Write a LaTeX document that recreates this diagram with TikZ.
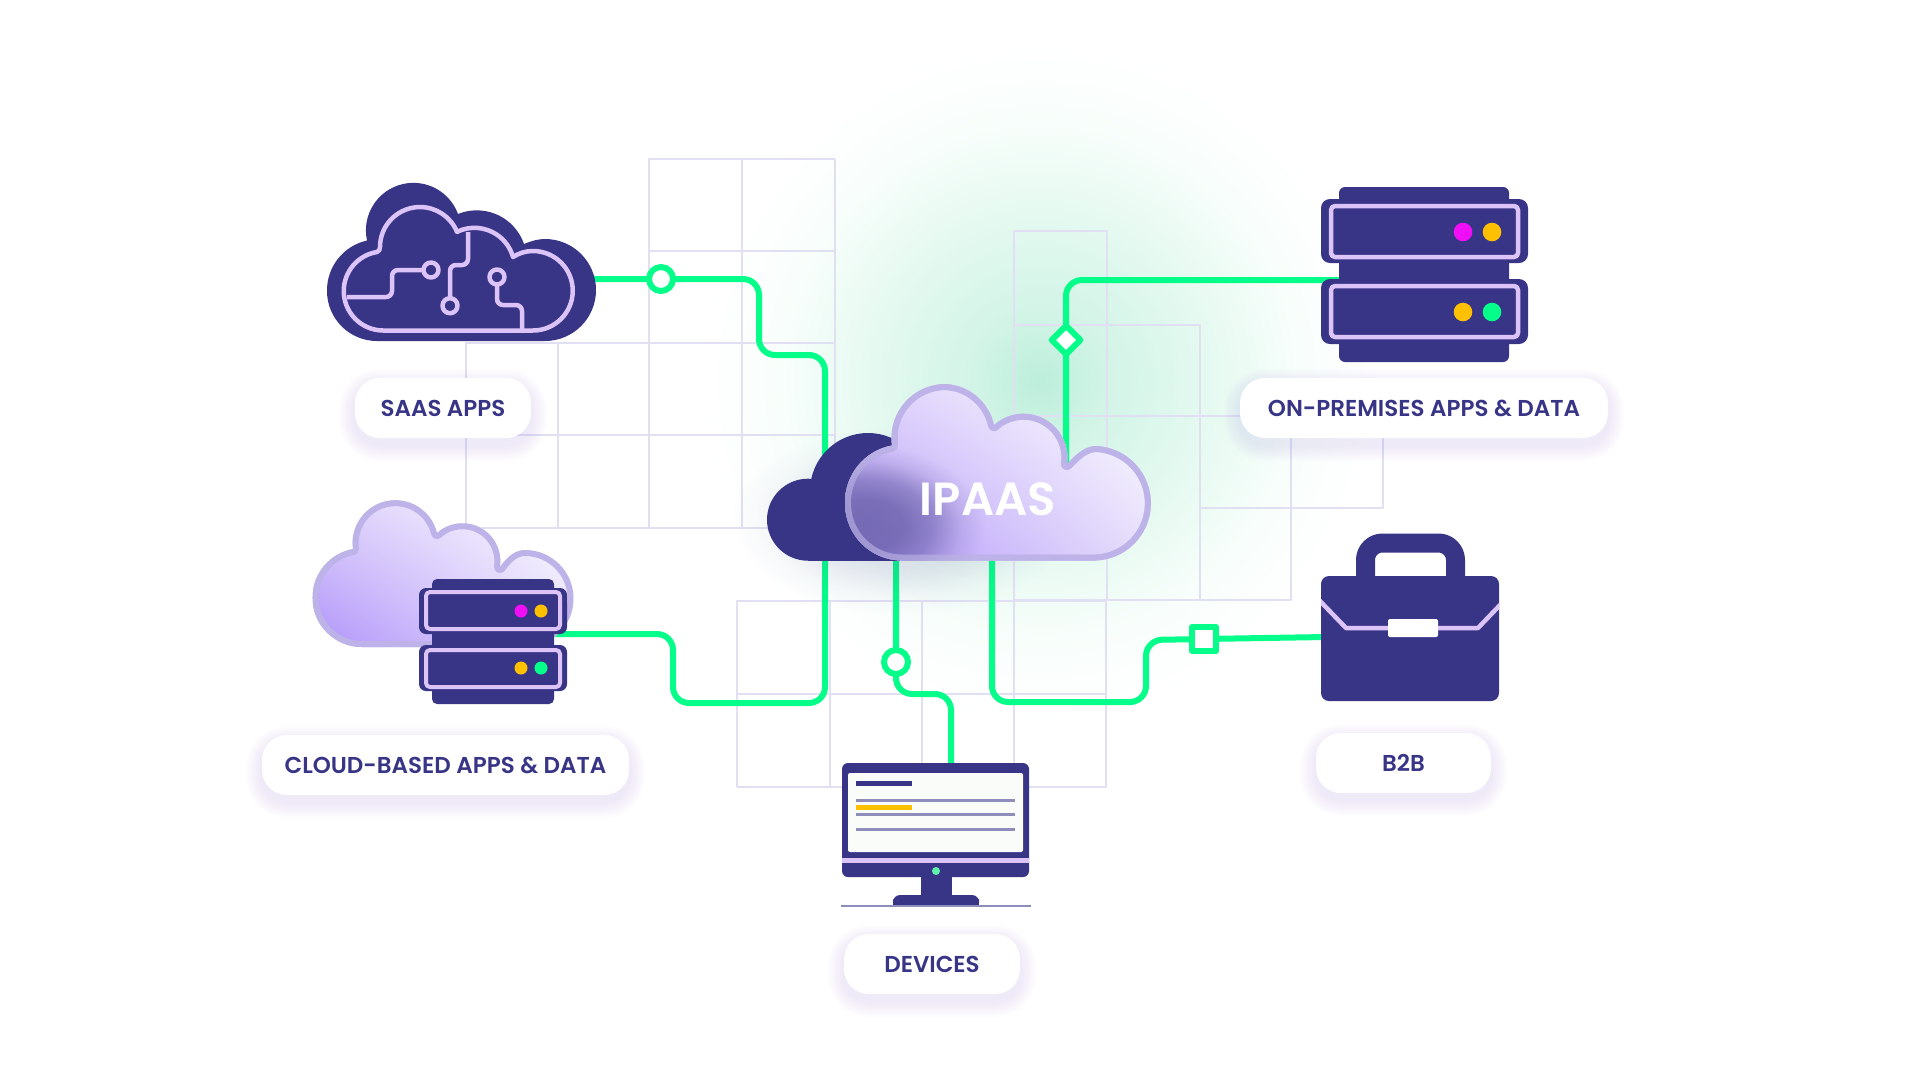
\documentclass[tikz,border=0pt]{standalone}
\usepackage{fontspec}
\setmainfont{Poppins}[BoldFont={Poppins SemiBold}]
\usetikzlibrary{shapes.geometric,svg.path,fadings,shadings}
\definecolor{inkb}{HTML}{383587}
\definecolor{lav}{HTML}{DCC3F8}
\definecolor{gridc}{HTML}{E1DFF2}
\definecolor{lnk}{HTML}{05FD8A}
\definecolor{rim}{HTML}{BDB3E8}
\definecolor{mag}{HTML}{F00FF5}
\definecolor{amb}{HTML}{FFC000}
\definecolor{scr}{HTML}{FAFCF9}
\definecolor{gln}{HTML}{8F8DBB}
\definecolor{glowa}{HTML}{BCEEDA}
\definecolor{glowb}{HTML}{E4F9F0}
\definecolor{glowc}{HTML}{F8FEFB}
\definecolor{cloudll}{HTML}{B094FA}
\definecolor{cloudul}{HTML}{DDD0FB}
\definecolor{cloudlr}{HTML}{E6DEFB}
\definecolor{btn}{HTML}{5FF2AB}
\definecolor{softc}{HTML}{A08CF0}
\pgfdeclareradialshading{glowsh}{\pgfpointorigin}{color(0bp)=(glowa); color(5bp)=(glowb!55!glowa); color(12bp)=(glowb); color(19bp)=(glowc); color(25bp)=(white); color(50bp)=(white)}
\pgfdeclareradialshading{blobsh}{\pgfpointorigin}{color(0bp)=(white); color(8bp)=(white!95!black); color(14bp)=(white!68!black); color(20bp)=(white!20!black); color(25bp)=(black); color(50bp)=(black)}
\pgfdeclarefading{blob}{\pgfuseshading{blobsh}}
\def\frontcloud{svg[yscale=-1] {M 902 560.5 A 57 57 0 0 1 845 503.5 A 57.5 57.5 0 0 1 892 445 A 54 54 0 0 1 945 384 A 52 52 0 0 1 994 425 A 44 44 0 0 1 1067 464 C 1077 453 1086 446 1096 446 A 57.3 57.3 0 0 1 1096 560.5 Z}}
\def\saascloud{svg[yscale=-1] {M 377 341 A 50 50 0 0 1 327 291 A 51 51 0 0 1 367 240 A 47.5 47.5 0 0 1 458 214 A 50 50 0 0 1 524 244 C 531 241 538 239 545 239 A 51 51 0 0 1 545 341 Z}}
\def\saasline{svg[yscale=-1] {M 383 330.5 A 39.5 39.5 0 0 1 377 252 Q 380 251 380 247 A 40 40 0 0 1 457 232 A 40 40 0 0 1 513 257 C 519 253 526 251 533 251 A 39.75 39.75 0 0 1 533 330.5 Z}}
\def\cbcloud{svg[yscale=-1] {M 362 647 A 49.4 49.4 0 0 1 353 549 A 42.8 42.8 0 0 1 437 533 A 38 38 0 0 1 500 567 C 507 557 515 550 525 550 A 48.5 48.5 0 0 1 525 647 Z}}
\tikzset{
  link/.style={draw=lnk,line width=6pt,rounded corners=16pt},
  gridl/.style={draw=gridc,line width=2.2pt},
  ring/.style={circle,draw=lnk,line width=6pt,fill=white,minimum size=24pt,inner sep=0pt},
  rhomb/.style={diamond,draw=lnk,line width=6pt,fill=white,minimum width=31pt,minimum height=31pt,inner sep=0pt},
  boxm/.style={rectangle,draw=lnk,line width=6pt,fill=white,minimum size=24pt,inner sep=0pt},
  lavl/.style={draw=lav,line width=4.5pt,rounded corners=4pt},
  trace/.style={draw=lav,line width=4.5pt,rounded corners=6pt},
  tring/.style={circle,draw=lav,line width=4.5pt,fill=inkb,minimum size=15pt,inner sep=0pt},
  pilltext/.style={rectangle,fill=white,rounded corners=25pt,text=inkb,font=\bfseries\fontsize{23}{28}\selectfont,text height=17pt,text depth=0pt,inner sep=0pt,align=center}
}
\newcommand{\softbox}[4]{\foreach \k in {1,...,8}{\fill[color=softc,opacity=.02,rounded corners={25+\k*2}] ({#1-\k*2},{#2+7-\k*2}) rectangle ({#3+\k*2},{#4+7+\k*2});}}
\newcommand{\glasscloud}[5]{\begin{scope}\clip #1;\shade[lower left=cloudll,upper left=cloudul,lower right=cloudlr,upper right=white] (#2,#3) rectangle (#4,#5);\draw[rim,line width=12pt] #1;\end{scope}}
\begin{document}
\begin{tikzpicture}[x=1pt,y=-1pt,line join=round]
\useasboundingbox (0,0) rectangle (1920,1080);
\fill[white] (0,0) rectangle (1920,1080);
\shade[shading=glowsh] (1040,380) circle (340);
% grids
\draw[gridl] (649,159) rectangle (835,528);
\draw[gridl] (742,159) -- (742,528);
\draw[gridl] (649,251) -- (835,251);
\draw[gridl] (466,343) rectangle (835,528);
\draw[gridl] (558,343) -- (558,528);
\draw[gridl] (466,435) -- (835,435);
\draw[gridl] (1014,231) -- (1107,231) -- (1107,600);
\draw[gridl] (1014,231) -- (1014,787);
\draw[gridl] (1014,325) -- (1200,325) -- (1200,600);
\draw[gridl] (1014,416) -- (1383,416) -- (1383,508) -- (1200,508);
\draw[gridl] (1291,416) -- (1291,600) -- (1014,600);
\draw[gridl] (737,601) rectangle (1106,787);
\draw[gridl] (830,601) -- (830,787);
\draw[gridl] (922,601) -- (922,787);
\draw[gridl] (737,694) -- (1106,694);
% anchors of connectors
\coordinate (saasR) at (590,279);
\coordinate (m1c) at (661,279);
\coordinate (backT) at (825,480);
\coordinate (backB) at (825,550);
\coordinate (cbR) at (555,634);
\coordinate (frontB1) at (896,555);
\coordinate (m2c) at (896,662);
\coordinate (monT) at (951,765);
\coordinate (frontB2) at (992,555);
\coordinate (m3c) at (1204,639);
\coordinate (caseL) at (1325,637);
\coordinate (frontT) at (1066,470);
\coordinate (m4c) at (1066,340);
\coordinate (premL) at (1340,280);
% connectors
\draw[link] (saasR) -- (m1c) -- (759,279) -- (759,355) -- (825,355) -- (backT);
\draw[link] (cbR) -- (673,634) -- (673,703) -- (825,703) -- (backB);
\draw[link] (frontB1) -- (m2c) -- (896,694) -- (951,694) -- (monT);
\draw[link] (frontB2) -- (992,702) -- (1146,702) -- (1146,640) -- (m3c);
\draw[link] (m3c) -- (caseL);
\draw[link] (frontT) -- (m4c) -- (1066,280) -- (premL);
\node[ring] (m1) at (m1c) {};
\node[ring] (m2) at (m2c) {};
\node[boxm] (m3) at (m3c) {};
\node[rhomb] (m4) at (m4c) {};
% shadow of the central cloud
\fill[color=inkb,opacity=.16,path fading=blob] (900,520) ellipse (170 and 95);
% back cloud
\fill[inkb] (808,519.7) circle (41);
\fill[inkb] (868,491) circle (58);
\fill[inkb] (808,490) rectangle (900,560.7);
% front cloud
\glasscloud{\frontcloud}{845}{561}{1153}{384}
\begin{scope}
\clip \frontcloud;
\fill[color=inkb!70!lav,opacity=.85,path fading=blob] (865,525) ellipse (120 and 80);
\draw[rim,line width=12pt,opacity=.6] \frontcloud;
\end{scope}
\node[text=white,font=\bfseries\fontsize{46.5}{50}\selectfont,inner sep=0pt,text height=34pt,text depth=0pt] (ipaas) at (988,498) {IPAAS};
% SaaS icon
\fill[inkb] \saascloud;
\draw[lav,line width=4.5pt] \saasline;
\draw[trace] (347,297) -- (392,297) -- (392,270) -- (431,270);
\draw[trace] (450,305) -- (450,265) -- (468,265) -- (468,232);
\draw[trace] (497,277) -- (497,305) -- (522,305) -- (522,330);
\node[tring] (t1) at (431,270) {};
\node[tring] (t2) at (450,305.7) {};
\node[tring] (t3) at (497,277) {};
% cloud-based icon
\glasscloud{\cbcloud}{313}{647}{573}{498}
\fill[inkb,rounded corners=5pt] (432,579) rectangle (554,704);
\fill[inkb,rounded corners=7pt] (419,588) rectangle (567,634);
\fill[inkb,rounded corners=7pt] (419,645) rectangle (567,691);
\draw[lavl,line width=4pt] (426,592) rectangle (560,629);
\draw[lavl,line width=4pt] (426,650) rectangle (560,687);
\fill[mag] (521,611) circle (6.5);
\fill[amb] (541,611) circle (6.5);
\fill[amb] (521,668) circle (6.5);
\fill[lnk] (541,668) circle (6.5);
% on-premises icon
\fill[inkb,rounded corners=6pt] (1339,187) rectangle (1509,362);
\fill[inkb,rounded corners=9pt] (1321,199) rectangle (1528,263);
\fill[inkb,rounded corners=9pt] (1321,279) rectangle (1528,344);
\draw[lavl] (1331,206) rectangle (1518,257);
\draw[lavl] (1331,286) rectangle (1518,337);
\fill[mag] (1463,232) circle (9.3);
\fill[amb] (1492,232) circle (9.3);
\fill[amb] (1463,312) circle (9.3);
\fill[lnk] (1492,312) circle (9.3);
% briefcase
\draw[inkb,line width=19pt,rounded corners=17pt] (1365.5,585) -- (1365.5,543) -- (1455.5,543) -- (1455.5,585);
\fill[inkb,rounded corners=8pt] (1321,576) rectangle (1499,701);
\begin{scope}
\clip[rounded corners=8pt] (1321,576) rectangle (1499,701);
\draw[lav,line width=4.5pt] (1319,600) -- (1346,628) -- (1478,628) -- (1501,604);
\end{scope}
\fill[white,rounded corners=2pt] (1388,619) rectangle (1438,637);
% monitor
\fill[inkb,rounded corners=6pt] (842,763) rectangle (1029,877);
\fill[scr,rounded corners=2pt] (848,773) rectangle (1023,852);
\fill[lav] (842,858) rectangle (1029,862.5);
\fill[inkb] (921,875) rectangle (952,897);
\fill[inkb,rounded corners=7pt] (893,906) -- (893,895) -- (979,895) -- (979,906) -- cycle;
\fill[inkb] (893,900) rectangle (979,906);
\draw[gln,line width=1.5pt] (841,906) -- (1031,906);
\fill[btn] (936,871) circle (4);
\draw[inkb,line width=5pt] (856,783) -- (912,783);
\draw[gln,line width=3pt] (856,800) -- (1015,800);
\draw[gln,line width=3pt] (856,814) -- (1015,814);
\draw[gln,line width=3pt] (856,829) -- (1015,829);
\draw[amb,line width=5pt] (856,807) -- (912,807);
% labels
\softbox{355}{378}{531}{438}
\softbox{262}{735}{629}{795}
\softbox{1240}{378}{1608}{438}
\softbox{1316}{733}{1491}{793}
\softbox{844}{934}{1020}{994}
\node[pilltext,minimum width=176pt,minimum height=60pt] (saaslab) at (443,408) {SAAS APPS};
\node[pilltext,minimum width=367pt,minimum height=60pt] (cblab) at (445.5,765) {CLOUD-BASED APPS \& DATA};
\node[pilltext,minimum width=368pt,minimum height=60pt] (premlab) at (1424,408) {ON-PREMISES APPS \& DATA};
\node[pilltext,minimum width=175pt,minimum height=60pt] (b2blab) at (1403.5,763) {B2B};
\node[pilltext,minimum width=176pt,minimum height=60pt] (devlab) at (932,964) {DEVICES};
\end{tikzpicture}
\end{document}
